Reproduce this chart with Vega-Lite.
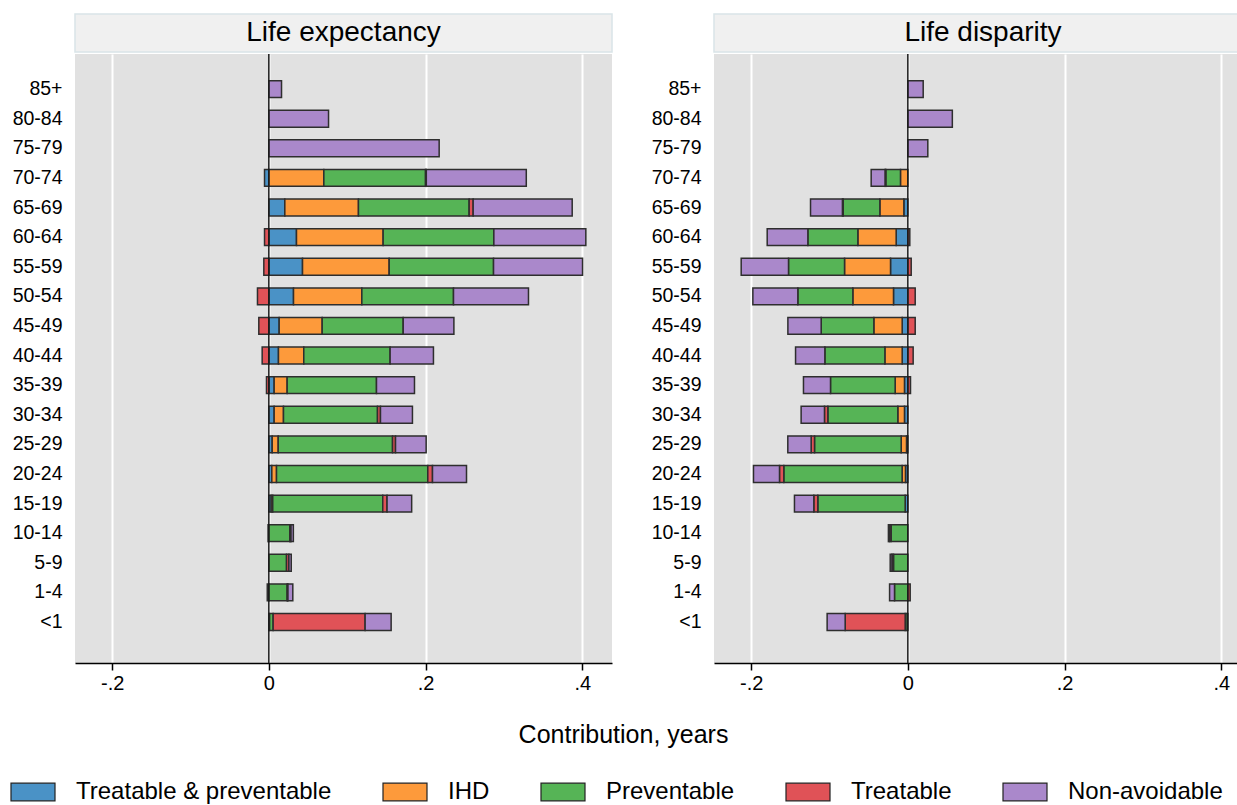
{
  "$schema": "https://vega.github.io/schema/vega-lite/v6.json",
  "padding": {"left": 10, "top": 13, "right": 0, "bottom": 0},
  "background": "white",
  "config": {
    "font": "Liberation Sans",
    "view": {"stroke": null},
    "axis": {"labelColor": "black", "labelFont": "Liberation Sans"},
    "legend": {"labelFont": "Liberation Sans"}
  },
  "datasets": {
    "le": [
      {"age": "85+", "Treatable & preventable": 0, "IHD": 0, "Preventable": 0, "Treatable": 0, "Non-avoidable": 0.0162},
      {"age": "80-84", "Treatable & preventable": 0, "IHD": 0, "Preventable": 0, "Treatable": 0, "Non-avoidable": 0.0762},
      {"age": "75-79", "Treatable & preventable": 0, "IHD": 0, "Preventable": 0, "Treatable": 0, "Non-avoidable": 0.2174},
      {"age": "70-74", "Treatable & preventable": -0.0055, "IHD": 0.0702, "Preventable": 0.1298, "Treatable": 0.001, "Non-avoidable": 0.1276},
      {"age": "65-69", "Treatable & preventable": 0.0204, "IHD": 0.094, "Preventable": 0.1413, "Treatable": 0.0051, "Non-avoidable": 0.1264},
      {"age": "60-64", "Treatable & preventable": 0.0353, "IHD": 0.1106, "Preventable": 0.1413, "Treatable": -0.0055, "Non-avoidable": 0.1174},
      {"age": "55-59", "Treatable & preventable": 0.043, "IHD": 0.1106, "Preventable": 0.1332, "Treatable": -0.0064, "Non-avoidable": 0.1136},
      {"age": "50-54", "Treatable & preventable": 0.0315, "IHD": 0.0872, "Preventable": 0.117, "Treatable": -0.0145, "Non-avoidable": 0.0957},
      {"age": "45-49", "Treatable & preventable": 0.0132, "IHD": 0.0549, "Preventable": 0.1034, "Treatable": -0.0128, "Non-avoidable": 0.0647},
      {"age": "40-44", "Treatable & preventable": 0.0123, "IHD": 0.0323, "Preventable": 0.1102, "Treatable": -0.0085, "Non-avoidable": 0.0553},
      {"age": "35-39", "Treatable & preventable": 0.0068, "IHD": 0.0166, "Preventable": 0.114, "Treatable": -0.003, "Non-avoidable": 0.0485},
      {"age": "30-34", "Treatable & preventable": 0.0068, "IHD": 0.0119, "Preventable": 0.12, "Treatable": 0.0038, "Non-avoidable": 0.0408},
      {"age": "25-29", "Treatable & preventable": 0.0043, "IHD": 0.0077, "Preventable": 0.1459, "Treatable": 0.0038, "Non-avoidable": 0.0391},
      {"age": "20-24", "Treatable & preventable": 0.0038, "IHD": 0.006, "Preventable": 0.1931, "Treatable": 0.006, "Non-avoidable": 0.0434},
      {"age": "15-19", "Treatable & preventable": 0.003, "IHD": 0.002, "Preventable": 0.1404, "Treatable": 0.0055, "Non-avoidable": 0.0314},
      {"age": "10-14", "Treatable & preventable": -0.001, "IHD": 0, "Preventable": 0.0268, "Treatable": 0.0015, "Non-avoidable": 0.003},
      {"age": "5-9", "Treatable & preventable": 0, "IHD": 0, "Preventable": 0.0226, "Treatable": 0.003, "Non-avoidable": 0.003},
      {"age": "1-4", "Treatable & preventable": -0.002, "IHD": 0, "Preventable": 0.0234, "Treatable": 0.001, "Non-avoidable": 0.0062},
      {"age": "<1", "Treatable & preventable": 0.001, "IHD": 0, "Preventable": 0.0045, "Treatable": 0.1174, "Non-avoidable": 0.0332}
    ],
    "ld": [
      {"age": "85+", "Treatable & preventable": 0, "IHD": 0, "Preventable": 0, "Treatable": 0, "Non-avoidable": 0.0196},
      {"age": "80-84", "Treatable & preventable": 0, "IHD": 0, "Preventable": 0, "Treatable": 0, "Non-avoidable": 0.0568},
      {"age": "75-79", "Treatable & preventable": 0, "IHD": 0, "Preventable": 0, "Treatable": 0, "Non-avoidable": 0.0255},
      {"age": "70-74", "Treatable & preventable": 0, "IHD": -0.0094, "Preventable": -0.0187, "Treatable": -0.001, "Non-avoidable": -0.0177},
      {"age": "65-69", "Treatable & preventable": -0.0051, "IHD": -0.0306, "Preventable": -0.0468, "Treatable": -0.001, "Non-avoidable": -0.0407},
      {"age": "60-64", "Treatable & preventable": -0.0149, "IHD": -0.0489, "Preventable": -0.0638, "Treatable": 0.0025, "Non-avoidable": -0.0519},
      {"age": "55-59", "Treatable & preventable": -0.0221, "IHD": -0.0587, "Preventable": -0.0715, "Treatable": 0.0043, "Non-avoidable": -0.0604},
      {"age": "50-54", "Treatable & preventable": -0.0183, "IHD": -0.0519, "Preventable": -0.0702, "Treatable": 0.0094, "Non-avoidable": -0.0574},
      {"age": "45-49", "Treatable & preventable": -0.0072, "IHD": -0.0362, "Preventable": -0.0672, "Treatable": 0.0094, "Non-avoidable": -0.0425},
      {"age": "40-44", "Treatable & preventable": -0.0072, "IHD": -0.0221, "Preventable": -0.0766, "Treatable": 0.0068, "Non-avoidable": -0.0374},
      {"age": "35-39", "Treatable & preventable": -0.0043, "IHD": -0.0119, "Preventable": -0.0825, "Treatable": 0.0034, "Non-avoidable": -0.0345},
      {"age": "30-34", "Treatable & preventable": -0.0043, "IHD": -0.0085, "Preventable": -0.0893, "Treatable": -0.0043, "Non-avoidable": -0.0298},
      {"age": "25-29", "Treatable & preventable": -0.0017, "IHD": -0.0068, "Preventable": -0.1106, "Treatable": -0.0043, "Non-avoidable": -0.0298},
      {"age": "20-24", "Treatable & preventable": -0.003, "IHD": -0.0043, "Preventable": -0.151, "Treatable": -0.0055, "Non-avoidable": -0.0332},
      {"age": "15-19", "Treatable & preventable": -0.0034, "IHD": 0, "Preventable": -0.1115, "Treatable": -0.0051, "Non-avoidable": -0.0247},
      {"age": "10-14", "Treatable & preventable": 0, "IHD": 0, "Preventable": -0.0213, "Treatable": -0.002, "Non-avoidable": -0.0015},
      {"age": "5-9", "Treatable & preventable": 0, "IHD": 0, "Preventable": -0.0183, "Treatable": -0.002, "Non-avoidable": -0.0022},
      {"age": "1-4", "Treatable & preventable": 0, "IHD": 0, "Preventable": -0.017, "Treatable": 0.003, "Non-avoidable": -0.0063},
      {"age": "<1", "Treatable & preventable": -0.001, "IHD": 0, "Preventable": -0.0024, "Treatable": -0.0766, "Non-avoidable": -0.023}
    ]
  },
  "vconcat": [
    {
      "hconcat": [
        {
          "vconcat": [
            {
              "width": 537, "height": 38,
              "view": {"fill": "#f0f0f0", "stroke": "#d9e4e7", "strokeWidth": 1.5},
              "data": {"values": [{"t": "Life expectancy"}]},
              "mark": {"type": "text", "fontSize": 28, "baseline": "middle", "color": "black", "font": "Liberation Sans"},
              "encoding": {"text": {"field": "t"}}
            },
            {
              "width": 537, "height": 609,
              "view": {"fill": "#e1e1e1", "stroke": null},
              "layer": [
                {
                  "data": {"name": "le"},
                  "transform": [
                    {"fold": ["Treatable & preventable", "IHD", "Preventable", "Treatable", "Non-avoidable"], "as": ["cause", "value"]},
                    {"filter": "datum.value != 0"},
                    {"calculate": "indexof(['Treatable & preventable','IHD','Preventable','Treatable','Non-avoidable'], datum.cause)", "as": "ord"}
                  ],
                  "mark": {"type": "bar", "stroke": "#2e2e2e", "strokeWidth": 1.5},
                  "encoding": {
                    "y": {"field": "age", "type": "nominal", "sort": ["85+","80-84","75-79","70-74","65-69","60-64","55-59","50-54","45-49","40-44","35-39","30-34","25-29","20-24","15-19","10-14","5-9","1-4","<1"],
                      "scale": {"paddingInner": 0.43, "paddingOuter": 1.12, "align": 0.45},
                      "axis": {"title": null, "ticks": false, "domain": false, "grid": false, "labelFontSize": 19.5, "labelPadding": 13, "minExtent": 65, "maxExtent": 65}},
                    "x": {"field": "value", "type": "quantitative", "stack": "zero",
                      "scale": {"domain": [-0.2474, 0.438], "nice": false, "zero": false},
                      "axis": {"title": null, "values": [-0.2, 0, 0.2, 0.4], "grid": true, "gridColor": "white", "gridWidth": 2, "gridOpacity": 1,
                        "domain": true, "domainColor": "black", "domainWidth": 1.5, "ticks": true, "tickColor": "black", "tickWidth": 1.5, "tickSize": 7,
                        "labelFontSize": 20, "labelPadding": 3,
                        "labelExpr": "datum.value == 0 ? '0' : (datum.value < 0 ? '-.' + round(abs(datum.value)*10) : '.' + round(datum.value*10))"}},
                    "color": {"field": "cause", "type": "nominal",
                      "scale": {"domain": ["Treatable & preventable", "IHD", "Preventable", "Treatable", "Non-avoidable"], "range": ["#4a92c6", "#fd9a3b", "#56b456", "#e05257", "#aa88cb"]},
                      "legend": {"title": null, "orient": "none", "legendX": -65, "legendY": 755, "direction": "horizontal", "symbolType": "M-1,-0.4H1V0.4H-1Z", "symbolSize": 1936,
                        "symbolStrokeColor": "#222222", "symbolStrokeWidth": 1.2, "symbolOpacity": 1, "labelFontSize": 24, "labelOffset": 20,
                        "columnPadding": 48, "labelLimit": 500, "labelColor": "black"}},
                    "order": {"field": "ord", "type": "quantitative"}
                  }
                },
                {
                  "data": {"values": [{"z": 0}]},
                  "mark": {"type": "rule", "color": "#1a1a1a", "strokeWidth": 1.5},
                  "encoding": {"x": {"field": "z", "type": "quantitative", "title": null}}
                }
              ]
            }
          ],
          "spacing": 0
        },
        {
          "vconcat": [
            {
              "width": 524, "height": 38,
              "view": {"fill": "#f0f0f0", "stroke": "#d9e4e7", "strokeWidth": 1.5},
              "data": {"values": [{"t": "Life disparity"}]},
              "mark": {"type": "text", "fontSize": 28, "baseline": "middle", "color": "black", "font": "Liberation Sans", "dx": 7},
              "encoding": {"text": {"field": "t"}}
            },
            {
              "width": 524, "height": 609,
              "view": {"fill": "#e1e1e1", "stroke": null},
              "layer": [
                {
                  "data": {"name": "ld"},
                  "transform": [
                    {"fold": ["Treatable & preventable", "IHD", "Preventable", "Treatable", "Non-avoidable"], "as": ["cause", "value"]},
                    {"filter": "datum.value != 0"},
                    {"calculate": "indexof(['Treatable & preventable','IHD','Preventable','Treatable','Non-avoidable'], datum.cause)", "as": "ord"}
                  ],
                  "mark": {"type": "bar", "stroke": "#2e2e2e", "strokeWidth": 1.5},
                  "encoding": {
                    "y": {"field": "age", "type": "nominal", "sort": ["85+","80-84","75-79","70-74","65-69","60-64","55-59","50-54","45-49","40-44","35-39","30-34","25-29","20-24","15-19","10-14","5-9","1-4","<1"],
                      "scale": {"paddingInner": 0.43, "paddingOuter": 1.12, "align": 0.45},
                      "axis": {"title": null, "ticks": false, "domain": false, "grid": false, "labelFontSize": 19.5, "labelPadding": 13, "minExtent": 65, "maxExtent": 65}},
                    "x": {"field": "value", "type": "quantitative", "stack": "zero",
                      "scale": {"domain": [-0.2474, 0.4214], "nice": false, "zero": false},
                      "axis": {"title": null, "values": [-0.2, 0, 0.2, 0.4], "grid": true, "gridColor": "white", "gridWidth": 2, "gridOpacity": 1,
                        "domain": true, "domainColor": "black", "domainWidth": 1.5, "ticks": true, "tickColor": "black", "tickWidth": 1.5, "tickSize": 7,
                        "labelFontSize": 20, "labelPadding": 3,
                        "labelExpr": "datum.value == 0 ? '0' : (datum.value < 0 ? '-.' + round(abs(datum.value)*10) : '.' + round(datum.value*10))"}},
                    "color": {"field": "cause", "type": "nominal",
                      "scale": {"domain": ["Treatable & preventable", "IHD", "Preventable", "Treatable", "Non-avoidable"], "range": ["#4a92c6", "#fd9a3b", "#56b456", "#e05257", "#aa88cb"]},
                      "legend": {"title": null, "orient": "none", "legendX": -65, "legendY": 755, "direction": "horizontal", "symbolType": "M-1,-0.4H1V0.4H-1Z", "symbolSize": 1936,
                        "symbolStrokeColor": "#222222", "symbolStrokeWidth": 1.2, "symbolOpacity": 1, "labelFontSize": 24, "labelOffset": 20,
                        "columnPadding": 48, "labelLimit": 500, "labelColor": "black"}},
                    "order": {"field": "ord", "type": "quantitative"}
                  }
                },
                {
                  "data": {"values": [{"z": 0}]},
                  "mark": {"type": "rule", "color": "#1a1a1a", "strokeWidth": 1.5},
                  "encoding": {"x": {"field": "z", "type": "quantitative", "title": null}}
                }
              ]
            }
          ],
          "spacing": 0
        }
      ],
      "spacing": 36
    },
    {
      "width": 1097, "height": 24,
      "view": {"stroke": null},
      "data": {"values": [{"t": "Contribution, years"}]},
      "mark": {"type": "text", "fontSize": 25, "baseline": "middle", "color": "black", "font": "Liberation Sans"},
      "encoding": {"text": {"field": "t"}}
    }
  ],
  "spacing": 30
}
